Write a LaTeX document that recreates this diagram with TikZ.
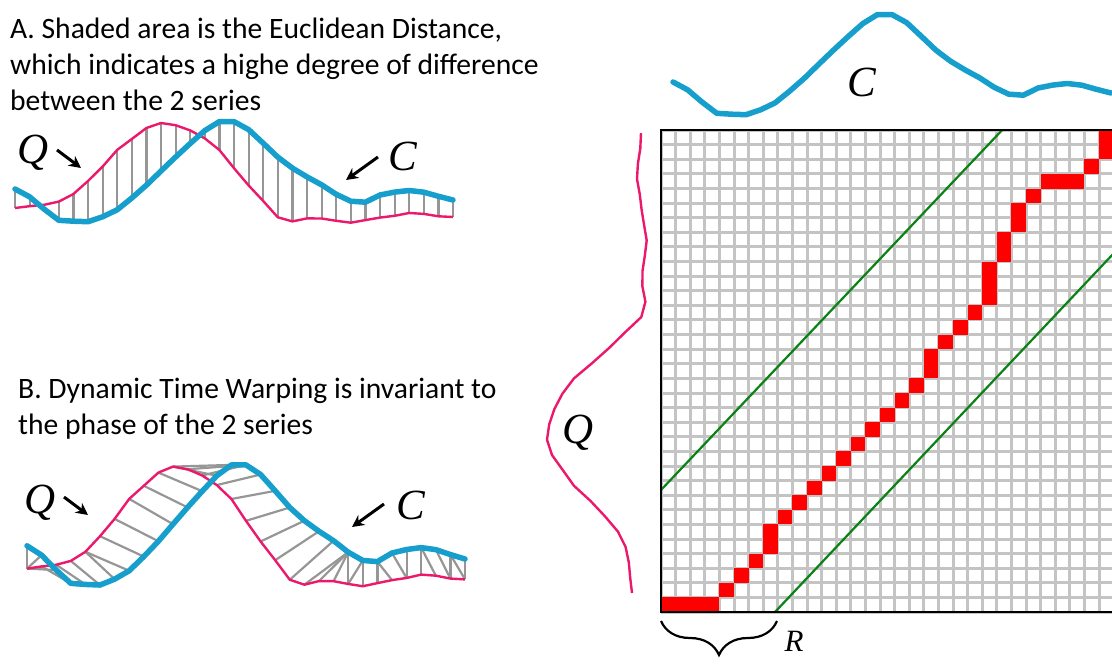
\documentclass[tikz,border=0pt]{standalone}
\usepackage{fontspec}
\setmainfont{Carlito}
\newfontfamily\seriesfont{Liberation Serif}
\usetikzlibrary{arrows.meta, decorations.pathreplacing}

\definecolor{seriesQ}{RGB}{236,24,108}
\definecolor{seriesC}{RGB}{22,158,204}
\definecolor{gridgray}{RGB}{196,196,196}
\definecolor{linkgray}{RGB}{150,150,150}
\definecolor{bandgreen}{RGB}{10,130,20}

% the two series, one value every 14.6px
\def\qvals{208,206.2,204.8,201.6,194,181,166.6,149.9,139,128,123,125.2,130.4,138.4,150,168.2,185.4,201,217.3,221.4,218.4,218.5,220.8,222.7,220.1,217.6,215.8,213,213.9,216.3,217}
\def\cvals{189,196.8,209.2,220.3,221.2,221.7,216.8,209.8,198,185.2,171,157,143.5,130.6,121.6,121.6,129.6,143.2,157.1,168.1,176.9,184.8,194.3,201.2,202.2,195,192.1,190.5,192.2,196.3,200}
\def\xstep{14.6}
\def\cellw{14.6}

\begin{document}
\begin{tikzpicture}[
    x=1pt, y=-1pt,
    desc/.style={anchor=north west, inner sep=0pt, align=left, font=\fontsize{29.6}{36}\selectfont},
    serieslabel/.style={inner sep=0pt, font=\seriesfont\itshape\fontsize{43}{43}\selectfont},
    rlabel/.style={inner sep=0pt, font=\seriesfont\itshape\fontsize{31}{31}\selectfont},
    qline/.style={draw=seriesQ, line width=2.4pt, line join=round},
    cline/.style={draw=seriesC, line width=5.5pt, line join=round, line cap=round},
    hatchline/.style={draw=linkgray, line width=2.2pt},
    warpline/.style={draw=linkgray, line width=2.2pt},
    pointer/.style={-{Stealth[length=12pt,width=12pt]}, line width=3pt},
    gridline/.style={draw=gridgray, line width=3pt},
    gridframe/.style={draw=black, line width=2.6pt},
    pathcell/.style={fill=red},
    band/.style={draw=bandgreen, line width=2.2pt},
    bracket/.style={draw=black, line width=2.2pt, decorate, decoration={brace, mirror, amplitude=34pt}}
]
\useasboundingbox (0,0) rectangle (1112,671);

\node[desc] (textA) at (10,18) {A. Shaded area is the Euclidean Distance,\\which indicates a highe degree of difference\\between the 2 series};
\node[desc] (textB) at (18,378) {B. Dynamic Time Warping is invariant to\\the phase of the 2 series};

% sample points of Q and C in every view
\foreach \i in {0,...,30} {
    \pgfmathsetmacro{\xq}{15+\xstep*\i}
    \pgfmathsetmacro{\yq}{{\qvals}[\i]}
    \pgfmathsetmacro{\yc}{{\cvals}[\i]}
    \coordinate (aq\i) at (\xq,\yq);
    \coordinate (ac\i) at (\xq,\yc);
    \coordinate (bq\i) at ({\xq+12},{1.2*\yq+319});
    \coordinate (bc\i) at ({\xq+12},{1.2*\yc+319});
    \coordinate (tc\i) at ({\xq+658},{\yc-107});
    \coordinate (lq\i) at ({\yq+424},{593-1.05*\xstep*\i});
}

% A: euclidean
\foreach \i in {0,...,30}
    \draw[hatchline] (aq\i) -- (ac\i);
\draw[qline] (aq0) \foreach \i in {1,...,30} {-- (aq\i)};
\draw[cline] (ac0) \foreach \i in {1,...,30} {-- (ac\i)};

\node[serieslabel] (labelQa) at (33,153) {Q};
\coordinate (tailQa) at (57,150);
\coordinate (tipQa) at (81,168);
\draw[pointer] (tailQa) -- (tipQa);
\node[serieslabel] (labelCa) at (403,156) {C};
\coordinate (tailCa) at (378,157);
\coordinate (tipCa) at (346,180);
\draw[pointer] (tailCa) -- (tipCa);

% B: warping
\foreach \i/\j in {0/0,0/1,0/2,1/3,2/4,3/5,4/6,4/7,5/8,6/9,7/10,8/11,9/12,10/13,10/14,11/15,12/15,13/16,14/17,15/18,16/19,17/20,18/21,19/22,20/22,21/22,22/22,22/23,23/23,24/24,25/24,26/25,26/26,27/27,28/27,29/28,29/29,30/29,30/30}
    \draw[warpline] (bq\i) -- (bc\j);
\draw[qline] (bq0) \foreach \i in {1,...,30} {-- (bq\i)};
\draw[cline] (bc0) \foreach \i in {1,...,30} {-- (bc\i)};

\node[serieslabel] (labelQb) at (40,503) {Q};
\coordinate (tailQb) at (64,497);
\coordinate (tipQb) at (88,515);
\draw[pointer] (tailQb) -- (tipQb);
\node[serieslabel] (labelCb) at (411,505) {C};
\coordinate (tailCb) at (384,504);
\coordinate (tipCb) at (352,527);
\draw[pointer] (tailCb) -- (tipCb);

% cost matrix
\begin{scope}
    \clip (640,100) rectangle (1112,640);
    \foreach \k in {0,...,33} {
        \draw[gridline] ({661+\cellw*\k},130.2) -- ({661+\cellw*\k},612);
        \draw[gridline] (661,{612-\cellw*\k}) -- (1143,{612-\cellw*\k});
    }
    \foreach \c/\r in {0/0,1/0,2/0,3/0,4/1,5/2,6/3,7/4,7/5,8/6,9/7,10/8,11/9,12/10,13/11,14/12,15/13,16/14,17/15,18/16,18/17,19/18,20/19,21/20,22/21,22/22,22/23,23/24,23/25,24/26,24/27,25/28,26/29,27/29,28/29,29/30,30/31,30/32,31/32,32/32}
        \fill[pathcell] ({661+\cellw*\c},{612-\cellw*\r}) rectangle ++(\cellw,-\cellw);
    \draw[band] (661,490) -- (1002,130.2);
    \draw[band] (775,612) -- (1230,130.2);
    \draw[gridframe] (1143,130.2) -- (661,130.2) -- (661,612) -- (1143,612);
\end{scope}

\draw[cline] (tc0) \foreach \i in {1,...,30} {-- (tc\i)};
\node[serieslabel] (labelCt) at (862,82) {C};
\draw[qline] (lq0) \foreach \i in {1,...,30} {-- (lq\i)};
\node[serieslabel] (labelQl) at (578,433) {Q};

\coordinate (braceL) at (661,621);
\coordinate (braceR) at (777,621);
\draw[bracket] (braceL) -- (braceR);
\node[rlabel] (labelR) at (794,641) {R};
\end{tikzpicture}
\end{document}
